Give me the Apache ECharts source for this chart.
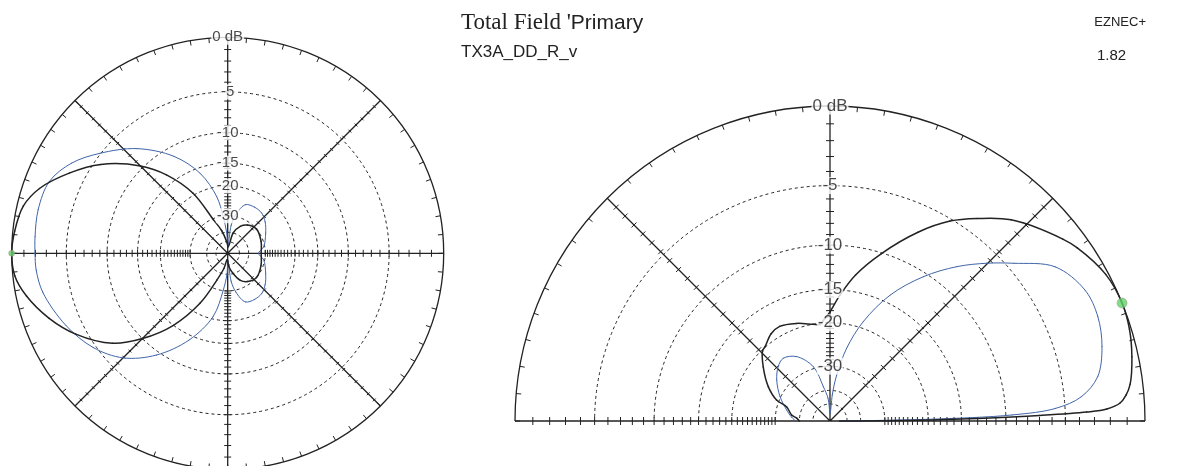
<!DOCTYPE html>
<html>
<head>
<meta charset="utf-8">
<script src="https://cdn.jsdelivr.net/npm/echarts@6/dist/echarts.min.js"></script>
<style>
  html, body { margin: 0; padding: 0; background: #fff; }
  #chart { width: 1180px; height: 466px; }
</style>
</head>
<body>
<div id="chart"></div>
<script>
// Azimuth pattern (left plot): angle in degrees, counter-clockwise from the right; gain in dB
const azBlackAng = [0, 20, 40, 55, 65, 75, 85, 95, 105, 113, 120, 128, 135, 145, 153, 161, 167, 174, 180, 186, 192, 200, 208, 218, 225, 233, 241, 248, 256, 265, 275, 285, 295, 305, 320, 340, 360];
const azBlackDb  = [-32, -31, -30, -31.5, -34, -40, -60, -50, -38, -30.6, -19.5, -13.3, -9.6, -5.7, -3.4, -1.4, -0.5, -0.15, 0, -0.15, -0.84, -2.2, -3.9, -6.7, -10, -15, -22.8, -34.5, -45, -60, -48, -40, -34, -31.5, -30, -31, -32];

const azBlueAng = [0, 10, 28, 40, 50, 60, 70, 78, 83, 88, 93, 97, 101, 109, 119, 131, 142, 150, 158, 167, 175, 180, 185, 192, 204, 215, 225, 235, 246, 257, 263, 268, 272, 277, 282, 290, 300, 310, 320, 332, 350, 360];
const azBlueDb  = [-33.5, -30.5, -27.7, -25.5, -24.2, -24, -24.5, -29, -35, -60, -40, -30.3, -22.6, -16.1, -11.45, -7.6, -4.9, -3.1, -2.0, -1.8, -1.9, -1.96, -2.0, -2.3, -3.4, -4.7, -6.5, -9.5, -14.1, -20.6, -30, -40, -60, -35, -29, -24.5, -24, -24.2, -25.5, -27.7, -30.5, -33.5];

// Elevation pattern (right plot): elevation angle in degrees; gain in dB
const elBlackAng = [0, 0.5, 1, 1.5, 2, 2.5, 3.5, 5, 7, 12, 17, 22, 28, 35, 38, 48, 54, 59, 65, 73, 80, 85.5, 90, 93, 96, 100, 109, 118, 124, 131, 134, 141, 151, 158.5, 162, 171, 175, 180];
const elBlackDb  = [-60, -22, -13, -7, -3.5, -2.2, -1.4, -1.0, -0.7, -0.35, -0.1, 0, -0.15, -0.73, -1.1, -2.6, -3.95, -5.16, -7.1, -10.1, -12.9, -15.7, -18.2, -19.3, -20.2, -20.0, -19.15, -18.5, -18.8, -19.9, -20.2, -22.3, -25.7, -29.2, -33.2, -35.9, -38.5, -40];

const elBlueAng = [0, 1, 1.9, 3.2, 5.5, 9.4, 15.3, 21.3, 27.2, 34.4, 40.6, 45.2, 50.6, 57.1, 64.5, 71.5, 77.1, 81.7, 85, 89, 95, 101, 107, 117.4, 126.7, 133.6, 142.4, 154.1, 165.7, 174.5, 180];
const elBlueDb  = [-60, -20, -9.4, -5.7, -3.8, -2.56, -1.9, -1.57, -1.62, -2.46, -4.5, -5.98, -7.82, -10.4, -14, -18.9, -24.7, -32.8, -42.7, -65, -45, -37.7, -29.4, -25.2, -23.9, -24.6, -26.5, -29.8, -33.5, -36.1, -38];

// Peak markers (angle of 0 dB)
const azPeakAng = 180;
const elPeakAng = 22;

// Scale rings, their labels, dB ticks on the main axes, evenly spaced ticks on the diagonals
const ringDb = [-5, -10, -15, -20, -30, -40, -50];
const ringLabelDb = [0, -5, -10, -15, -20, -30];
const ringLabelText = ['0 dB', '-5', '-10', '-15', '-20', '-30'];
const axisTickDb = [-1, -2, -3, -4, -5, -6, -7, -8, -9, -10, -11, -12, -13, -14, -15, -16, -17, -18, -19, -20, -21, -22, -23, -24, -25, -26, -27, -28, -29, -30];
const diagTickFrac = [0.16, 0.20, 0.24, 0.28, 0.32, 0.36, 0.40, 0.44, 0.48, 0.52, 0.56, 0.60, 0.64, 0.68, 0.72, 0.76, 0.80, 0.84, 0.88, 0.92, 0.96];
const azMainSpokes = [0, 90, 180, 270];
const azDiagSpokes = [45, 135, 225, 315];
const elMainSpokes = [0, 90, 180];
const elDiagSpokes = [45, 135];

// Header text
const headTitleA = "Total Field '";
const headTitleB = 'Primary';
const headFile = 'TX3A_DD_R_v';
const headProgram = 'EZNEC+';
const headVersion = '1.82';

// ARRL log-periodic radial scale: each 2 dB shrinks the radius by 0.89
const arrl = db => Math.pow(0.89, -db / 2);

const INK = '#222';
const BLUE = '#4065a8';
const FONT = "'Liberation Sans', Arial, sans-serif";

function curveData(angles, dbs) {
  return angles.map((a, i) => [arrl(dbs[i]), a]);
}

function ringSeries(polarIndex, full) {
  return {
    type: 'custom', coordinateSystem: 'polar', polarIndex, z: 2, silent: true,
    data: ringDb.map(d => [arrl(d), 0]),
    renderItem: (params, api) => {
      const c = api.coord([0, 0]);
      const p = api.coord([api.value(0), 0]);
      const rr = Math.hypot(p[0] - c[0], p[1] - c[1]);
      return {
        type: 'arc',
        shape: { cx: c[0], cy: c[1], r: rr, startAngle: 0, endAngle: full ? Math.PI * 2 : Math.PI, clockwise: false },
        style: { stroke: INK, fill: null, lineWidth: 1, lineDash: [3, 3] }
      };
    }
  };
}

// Short cross ticks perpendicular to a spoke; data items are [radius, angle]
function tickSeries(polarIndex, data, half) {
  return {
    type: 'custom', coordinateSystem: 'polar', polarIndex, z: 3, silent: true,
    data,
    renderItem: (params, api) => {
      const a = api.value(1) * Math.PI / 180;
      const p = api.coord([api.value(0), api.value(1)]);
      const sx = Math.sin(a) * half, sy = Math.cos(a) * half;
      return {
        type: 'line',
        shape: { x1: p[0] - sx, y1: p[1] - sy, x2: p[0] + sx, y2: p[1] + sy },
        style: { stroke: INK, lineWidth: 1 }
      };
    }
  };
}

function tickData(spokes, radii) {
  const out = [];
  spokes.forEach(a => radii.forEach(r => out.push([r, a])));
  return out;
}

function labelSeries(polarIndex, size) {
  return {
    type: 'scatter', coordinateSystem: 'polar', polarIndex, z: 8, silent: true,
    symbolSize: 0,
    data: ringLabelDb.map((d, i) => ({ value: [arrl(d), 90], name: ringLabelText[i] })),
    label: {
      show: true, position: 'inside', formatter: p => p.name,
      fontFamily: FONT, fontSize: size, color: '#1a1a1a',
      backgroundColor: '#fff', padding: [0, 1]
    }
  };
}

// Pattern trace drawn as a centripetal Catmull-Rom spline through the polar points
function patternSeries(polarIndex, data, color, width, closed) {
  const n = data.length;
  return {
    type: 'custom', coordinateSystem: 'polar', polarIndex, z: 5, silent: true,
    data,
    renderItem: (params, api) => {
      const i = params.dataIndexInside;
      if (i >= n - 1) return null;
      const idx = k => {
        if (closed) { const m = n - 1; return ((k % m) + m) % m; }
        return Math.max(0, Math.min(n - 1, k));
      };
      const pt = k => { const j = idx(k); return api.coord([api.value(0, j), api.value(1, j)]); };
      const p0 = pt(i - 1), p1 = pt(i), p2 = pt(i + 1), p3 = pt(i + 2);
      const dist = (a, b) => Math.hypot(a[0] - b[0], a[1] - b[1]);
      const d1 = Math.sqrt(dist(p0, p1)), d2 = Math.sqrt(dist(p1, p2)), d3 = Math.sqrt(dist(p2, p3));
      const eps = 1e-4;
      let c1 = p1, c2 = p2;
      if (d2 > eps) {
        if (d1 > eps) {
          const k = 3 * d1 * (d1 + d2), w = 2 * d1 * d1 + 3 * d1 * d2 + d2 * d2;
          c1 = [(d1 * d1 * p2[0] - d2 * d2 * p0[0] + w * p1[0]) / k,
                (d1 * d1 * p2[1] - d2 * d2 * p0[1] + w * p1[1]) / k];
        }
        if (d3 > eps) {
          const k = 3 * d3 * (d3 + d2), w = 2 * d3 * d3 + 3 * d3 * d2 + d2 * d2;
          c2 = [(d3 * d3 * p1[0] - d2 * d2 * p3[0] + w * p2[0]) / k,
                (d3 * d3 * p1[1] - d2 * d2 * p3[1] + w * p2[1]) / k];
        }
      }
      return {
        type: 'bezierCurve',
        shape: { x1: p1[0], y1: p1[1], x2: p2[0], y2: p2[1], cpx1: c1[0], cpy1: c1[1], cpx2: c2[0], cpy2: c2[1] },
        style: { stroke: color, lineWidth: width, fill: null, lineCap: 'round' }
      };
    }
  };
}

function peakSeries(polarIndex, ang, size) {
  return {
    type: 'scatter', coordinateSystem: 'polar', polarIndex, z: 9, silent: true,
    data: [[arrl(0), ang]], symbolSize: size,
    itemStyle: { color: '#62d36a', borderColor: '#a08a8a', borderWidth: 0.6 }
  };
}

function angleAxis(polarIndex, max, extra) {
  return Object.assign({
    polarIndex, type: 'value', min: 0, max, interval: 45, startAngle: 0, clockwise: false,
    axisLine: { show: true, lineStyle: { color: INK, width: 1.3 } },
    axisTick: { show: true, inside: true, length: 5, lineStyle: { color: INK, width: 1 } },
    minorTick: { show: true, splitNumber: 9, length: 5, lineStyle: { color: INK, width: 1 } },
    axisLabel: { show: false },
    splitLine: { show: true, lineStyle: { color: INK, width: 1.3 } },
    splitArea: { show: false }
  }, extra || {});
}

const chart = echarts.init(document.getElementById('chart'), null, { renderer: 'canvas' });

chart.setOption({
  animation: false,
  backgroundColor: '#fff',
  polar: [
    { center: [227.7, 253.3], radius: 216 },
    { center: [830, 421], radius: 315 }
  ],
  angleAxis: [
    angleAxis(0, 360),
    angleAxis(1, 180, { endAngle: 180 })
  ],
  radiusAxis: [
    { polarIndex: 0, type: 'value', min: 0, max: 1, show: false },
    { polarIndex: 1, type: 'value', min: 0, max: 1, show: false }
  ],
  graphic: {
    elements: [
      {
        type: 'text', x: 461, y: 23, silent: true,
        style: {
          text: '{a|' + headTitleA + '}{b|' + headTitleB + '}',
          verticalAlign: 'middle', align: 'left',
          rich: {
            a: { fontFamily: "'Liberation Serif', 'Times New Roman', serif", fontSize: 23, fill: '#222' },
            b: { fontFamily: FONT, fontSize: 21, fill: '#222' }
          }
        }
      },
      {
        type: 'text', x: 461, y: 52, silent: true,
        style: { text: headFile, font: '17px ' + FONT, fill: '#222', verticalAlign: 'middle', align: 'left' }
      },
      {
        type: 'text', x: 1146, y: 22, silent: true,
        style: { text: headProgram, font: '13px ' + FONT, fill: '#222', verticalAlign: 'middle', align: 'right' }
      },
      {
        type: 'text', x: 1097, y: 56, silent: true,
        style: { text: headVersion, font: '15px ' + FONT, fill: '#222', verticalAlign: 'middle', align: 'left' }
      }
    ]
  },
  series: [
    ringSeries(0, true),
    tickSeries(0, tickData(azMainSpokes, axisTickDb.map(arrl)), 3.5),
    tickSeries(0, tickData(azDiagSpokes, diagTickFrac), 2),
    patternSeries(0, curveData(azBlueAng, azBlueDb), BLUE, 1, true),
    patternSeries(0, curveData(azBlackAng, azBlackDb), INK, 1.5, true),
    labelSeries(0, 15),
    peakSeries(0, azPeakAng, 6),

    ringSeries(1, false),
    tickSeries(1, tickData(elMainSpokes, axisTickDb.map(arrl)), 4),
    tickSeries(1, tickData(elDiagSpokes, diagTickFrac), 3.5),
    patternSeries(1, curveData(elBlueAng, elBlueDb), BLUE, 1, false),
    patternSeries(1, curveData(elBlackAng, elBlackDb), INK, 1.5, false),
    labelSeries(1, 17),
    peakSeries(1, elPeakAng, 10)
  ]
});
</script>
</body>
</html>
